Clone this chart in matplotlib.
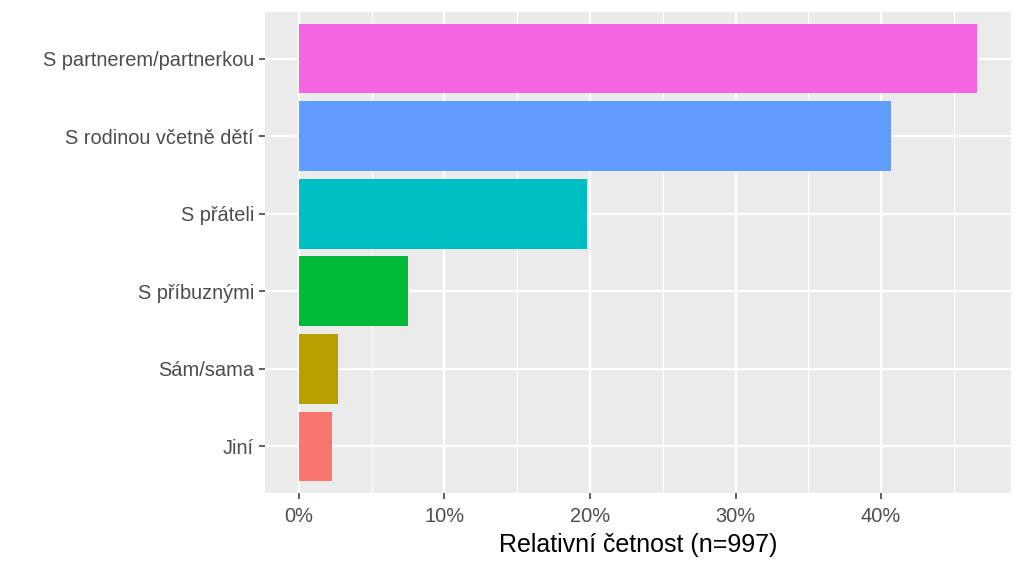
import numpy as np
import matplotlib.pyplot as plt
from matplotlib.ticker import FuncFormatter, MultipleLocator

plt.rcParams['font.family'] = ['Liberation Sans', 'DejaVu Sans']

kategorie = ["Jiní", "Sám/sama", "S příbuznými", "S přáteli",
             "S rodinou včetně dětí", "S partnerem/partnerkou"]
podil = [2.3, 2.7, 7.5, 19.8, 40.7, 46.6]
barvy = ["#F8766D", "#B79F00", "#00BA38", "#00BFC4", "#619CFF", "#F564E3"]
n = 997

fig = plt.figure(figsize=(10.24, 5.69), dpi=100)
ax = fig.add_axes([265/1024, 76/569, 746/1024, 481/569])
ax.set_facecolor("#EBEBEB")

y = np.arange(len(kategorie))
ax.barh(y, podil, height=0.9, color=barvy, zorder=3)

ax.set_ylim(-0.6, len(kategorie) - 0.4)
xmax = max(podil)
ax.set_xlim(-0.05 * xmax, xmax * 1.05)

ax.xaxis.set_major_locator(MultipleLocator(10))
ax.xaxis.set_minor_locator(MultipleLocator(5))
ax.xaxis.set_major_formatter(FuncFormatter(lambda v, p: f"{v:.0f}%"))
ax.set_yticks(y)
ax.set_yticklabels(kategorie)

ax.grid(which="major", color="white", linewidth=1.6, zorder=0)
ax.grid(which="minor", axis="x", color="white", linewidth=0.8, zorder=0)
ax.set_axisbelow(True)
for s in ax.spines.values():
    s.set_visible(False)

ax.tick_params(which="major", length=4, width=1.1, color="#333333",
               labelcolor="#4D4D4D", labelsize=14.4, pad=4)
ax.tick_params(axis="x", pad=6)
ax.tick_params(which="minor", length=0)

ax.set_xlabel(f"Relativní četnost (n={n})", fontsize=18, color="black", labelpad=5)

fig.savefig("out.png", dpi=100)
